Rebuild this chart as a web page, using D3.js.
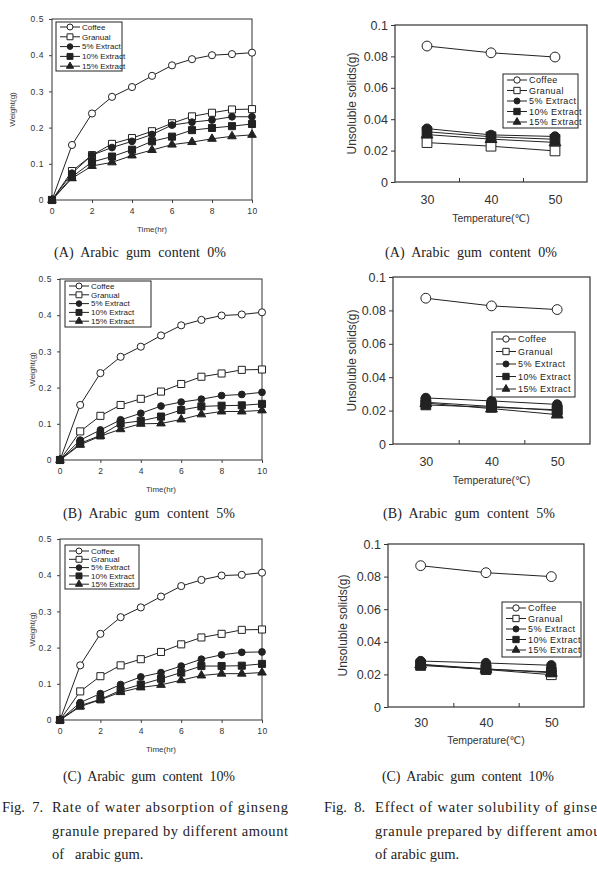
<!DOCTYPE html>
<html>
<head>
<meta charset="utf-8">
<script src="https://cdn.jsdelivr.net/npm/d3@7"></script>
<style>
  body { margin: 0; background: #fff; }
</style>
</head>
<body>
<div id="fig"></div>
<script>
// ---- data ----
var seriesNames = ['Coffee', 'Granual', '5% Extract', '10% Extract', '15% Extract'];
var hours = [0, 1, 2, 3, 4, 5, 6, 7, 8, 9, 10];
var hourTicks = [0, 2, 4, 6, 8, 10];
var weightTicks = [0, 0.1, 0.2, 0.3, 0.4, 0.5];
var temps = [30, 40, 50];
var solidTicks = [0, 0.02, 0.04, 0.06, 0.08, 0.1];

// Fig. 7 (A) arabic gum 0%
var wA_coffee = [0, 0.152, 0.239, 0.285, 0.312, 0.343, 0.372, 0.389, 0.400, 0.403, 0.407];
var wA_granual = [0, 0.080, 0.124, 0.155, 0.171, 0.190, 0.212, 0.231, 0.241, 0.250, 0.251];
var wA_ext5 = [0, 0.074, 0.124, 0.145, 0.162, 0.181, 0.207, 0.215, 0.221, 0.230, 0.230];
var wA_ext10 = [0, 0.064, 0.105, 0.120, 0.139, 0.162, 0.175, 0.193, 0.199, 0.204, 0.210];
var wA_ext15 = [0, 0.060, 0.094, 0.104, 0.123, 0.138, 0.153, 0.160, 0.169, 0.176, 0.180];
// Fig. 7 (B) arabic gum 5%
var wB_coffee = [0, 0.152, 0.240, 0.285, 0.313, 0.344, 0.372, 0.387, 0.399, 0.402, 0.408];
var wB_granual = [0, 0.079, 0.122, 0.152, 0.169, 0.189, 0.210, 0.230, 0.239, 0.249, 0.250];
var wB_ext5 = [0, 0.055, 0.083, 0.111, 0.129, 0.149, 0.160, 0.168, 0.178, 0.181, 0.187];
var wB_ext10 = [0, 0.046, 0.068, 0.101, 0.108, 0.120, 0.138, 0.148, 0.150, 0.151, 0.155];
var wB_ext15 = [0, 0.042, 0.066, 0.085, 0.100, 0.101, 0.112, 0.126, 0.134, 0.134, 0.137];
// Fig. 7 (C) arabic gum 10%
var wC_coffee = [0, 0.151, 0.238, 0.284, 0.311, 0.341, 0.370, 0.387, 0.399, 0.401, 0.407];
var wC_granual = [0, 0.079, 0.121, 0.151, 0.168, 0.188, 0.209, 0.228, 0.238, 0.249, 0.250];
var wC_ext5 = [0, 0.048, 0.073, 0.098, 0.119, 0.131, 0.149, 0.168, 0.180, 0.187, 0.188];
var wC_ext10 = [0, 0.040, 0.057, 0.082, 0.098, 0.114, 0.131, 0.149, 0.149, 0.150, 0.155];
var wC_ext15 = [0, 0.037, 0.056, 0.077, 0.090, 0.097, 0.110, 0.123, 0.128, 0.128, 0.131];

// Fig. 8 (A) arabic gum 0%
var sA_coffee = [0.0866, 0.0823, 0.0796];
var sA_granual = [0.0251, 0.0228, 0.0198];
var sA_ext5 = [0.0340, 0.0300, 0.0290];
var sA_ext10 = [0.0320, 0.0288, 0.0272];
var sA_ext15 = [0.0302, 0.0273, 0.0252];
// Fig. 8 (B) arabic gum 5%
var sB_coffee = [0.0873, 0.0827, 0.0805];
var sB_granual = [0.0250, 0.0225, 0.0200];
var sB_ext5 = [0.0276, 0.0258, 0.0237];
var sB_ext10 = [0.0234, 0.0220, 0.0205];
var sB_ext15 = [0.0245, 0.0212, 0.0176];
// Fig. 8 (C) arabic gum 10%
var sC_coffee = [0.0867, 0.0824, 0.0800];
var sC_granual = [0.0260, 0.0230, 0.0198];
var sC_ext5 = [0.0282, 0.0270, 0.0256];
var sC_ext10 = [0.0255, 0.0232, 0.0215];
var sC_ext15 = [0.0262, 0.0234, 0.0210];

// ---- page ----
var W = 597, H = 882;
var ink = '#222';
var sans = 'Arial, "Liberation Sans", "DejaVu Sans", sans-serif';
var serif = '"Liberation Serif", "DejaVu Serif", serif';

var svg = d3.select('#fig').append('svg')
  .attr('width', W).attr('height', H)
  .style('display', 'block');

// marker look for each series: open circle, open square, filled circle, filled square, filled triangle
var markerShape = [d3.symbolCircle, d3.symbolSquare, d3.symbolCircle, d3.symbolSquare, d3.symbolTriangle];
var markerFill = ['#fff', '#fff', ink, ink, ink];

function drawMarkers(g, pts, i, scale) {
  var sizes = [40, 50, 36, 50, 32];
  g.selectAll(null)
    .data(pts)
    .enter()
    .append('path')
    .attr('transform', function (d) { return 'translate(' + d[0] + ',' + d[1] + ')'; })
    .attr('d', d3.symbol().type(markerShape[i]).size(sizes[i] * scale))
    .attr('fill', markerFill[i])
    .attr('stroke', ink)
    .attr('stroke-width', 1);
}

function drawLegend(lg, L, fontSize, spacing, mscale) {
  var g = svg.append('g');
  g.append('rect')
    .attr('x', L.x).attr('y', L.y).attr('width', L.w).attr('height', L.h)
    .attr('fill', '#fff').attr('stroke', ink).attr('stroke-width', 1);
  seriesNames.forEach(function (name, i) {
    var yy = L.row0 + i * L.step;
    g.append('line')
      .attr('x1', L.x + 4).attr('x2', L.x + 4 + L.sample)
      .attr('y1', yy).attr('y2', yy)
      .attr('stroke', ink).attr('stroke-width', 1);
    drawMarkers(g, [[L.x + 4 + L.sample / 2, yy]], i, mscale);
    g.append('text')
      .attr('x', L.x + 6 + L.sample).attr('y', yy)
      .attr('dy', '0.35em')
      .attr('font-family', sans).attr('font-size', fontSize)
      .attr('letter-spacing', spacing)
      .attr('fill', ink)
      .text(name);
  });
}

function caption(cx, y, label) {
  svg.append('text')
    .attr('x', cx).attr('y', y)
    .attr('text-anchor', 'middle')
    .attr('font-family', serif).attr('font-size', 14)
    .attr('textLength', 172).attr('lengthAdjust', 'spacing')
    .style('white-space', 'pre')
    .attr('fill', ink)
    .text(label);
}

// Fig. 7 style panel: weight gain over time
function drawWeight(p, series) {
  var x = d3.scaleLinear().domain([0, 10]).range([p.left, p.right]);
  var y = d3.scaleLinear().domain([0, 0.5]).range([p.bottom, p.top]);

  var ax = svg.append('g')
    .attr('transform', 'translate(0,' + p.bottom + ')')
    .call(d3.axisBottom(x).tickValues(hourTicks).tickSize(3).tickPadding(5));
  var ay = svg.append('g')
    .attr('transform', 'translate(' + p.left + ',0)')
    .call(d3.axisLeft(y).tickValues(weightTicks).tickSize(3).tickPadding(5)
      .tickFormat(function (d) { return d === 0 ? '0' : d3.format('.1f')(d); }));
  [ax, ay].forEach(function (a) {
    a.select('.domain').remove();
    a.attr('font-family', sans).attr('font-size', 8.5);
    a.selectAll('text').attr('fill', '#333').attr('letter-spacing', 0.6);
    a.selectAll('line').attr('stroke', '#444');
  });

  svg.append('rect')
    .attr('x', p.left).attr('y', p.top)
    .attr('width', p.right - p.left).attr('height', p.bottom - p.top)
    .attr('fill', 'none').attr('stroke', '#333').attr('stroke-width', 1);

  var line = d3.line().x(function (d) { return d[0]; }).y(function (d) { return d[1]; });
  series.forEach(function (vals, i) {
    var pts = vals.map(function (v, k) { return [x(hours[k]), y(v)]; });
    svg.append('path').attr('d', line(pts))
      .attr('fill', 'none').attr('stroke', ink).attr('stroke-width', 1);
  });
  series.forEach(function (vals, i) {
    var pts = vals.map(function (v, k) { return [x(hours[k]), y(v)]; });
    drawMarkers(svg.append('g'), pts, i, 1);
  });

  svg.append('text')
    .attr('x', (p.left + p.right) / 2).attr('y', p.bottom + 32)
    .attr('text-anchor', 'middle')
    .attr('font-family', sans).attr('font-size', 8).attr('fill', '#333')
    .text('Time(hr)');
  svg.append('text')
    .attr('transform', 'translate(' + p.yLabelX + ',' + (p.top + p.bottom) / 2 + ') rotate(-90)')
    .attr('text-anchor', 'middle').attr('dy', '0.35em')
    .attr('font-family', sans).attr('font-size', 8).attr('fill', '#333')
    .text('Weight(g)');

  drawLegend(svg, p.legend, 8, 0, 0.7);
  caption((p.left + p.right) / 2 - 12, p.capY, p.cap);
}

// Fig. 8 style panel: unsoluble solids against temperature
function drawSolids(p, series) {
  var x = d3.scaleLinear().domain([25, 55]).range([p.left, p.right]);
  var y = d3.scaleLinear().domain([0, 0.1]).range([p.bottom, p.top]);

  var ax = svg.append('g')
    .attr('transform', 'translate(0,' + p.bottom + ')')
    .call(d3.axisBottom(x).tickValues(temps).tickSize(0).tickPadding(p.xPad));
  var axIn = svg.append('g')
    .attr('transform', 'translate(0,' + p.bottom + ')')
    .call(d3.axisBottom(x).tickValues([35, 45]).tickSize(-4).tickFormat(''));
  var ay = svg.append('g')
    .attr('transform', 'translate(' + p.left + ',0)')
    .call(d3.axisLeft(y).tickValues(solidTicks).tickSize(4).tickPadding(3)
      .tickFormat(function (d) { return d === 0 ? '0' : String(+d.toFixed(2)); }));
  [ax, axIn, ay].forEach(function (a) {
    a.select('.domain').remove();
    a.attr('font-family', sans).attr('font-size', 12.5);
    a.selectAll('text').attr('fill', '#333');
    a.selectAll('line').attr('stroke', '#333');
  });

  svg.append('rect')
    .attr('x', p.left).attr('y', p.top)
    .attr('width', p.right - p.left).attr('height', p.bottom - p.top)
    .attr('fill', 'none').attr('stroke', '#333').attr('stroke-width', 1.2);

  var line = d3.line().x(function (d) { return d[0]; }).y(function (d) { return d[1]; });
  series.forEach(function (vals, i) {
    var pts = vals.map(function (v, k) { return [x(temps[k]), y(v)]; });
    svg.append('path').attr('d', line(pts))
      .attr('fill', 'none').attr('stroke', ink).attr('stroke-width', 1);
  });
  series.forEach(function (vals, i) {
    var pts = vals.map(function (v, k) { return [x(temps[k]), y(v)]; });
    drawMarkers(svg.append('g'), pts, i, 1.9);
  });

  svg.append('text')
    .attr('x', x(40)).attr('y', p.bottom + p.titleOff)
    .attr('text-anchor', 'middle')
    .attr('font-family', sans).attr('font-size', 10.5).attr('fill', '#333')
    .text('Temperature(\u2103)');
  svg.append('text')
    .attr('transform', 'translate(' + p.yLabelX + ',' + (p.top + p.bottom) / 2 + ') rotate(-90)')
    .attr('text-anchor', 'middle').attr('dy', '0.35em')
    .attr('font-family', sans).attr('font-size', 12).attr('fill', '#333')
    .text('Unsoluble solids(g)');

  drawLegend(svg, p.legend, 9, 0.4, 0.8);
  caption(p.capX, p.capY, p.cap);
}

// ---- six panels ----
drawWeight({
  left: 52, right: 252, top: 19, bottom: 200, yLabelX: 12,
  legend: { x: 56, y: 22, w: 66, h: 49, row0: 27, step: 9.8, sample: 20 },
  capY: 257, cap: '(A)  Arabic  gum  content  0%'
}, [wA_coffee, wA_granual, wA_ext5, wA_ext10, wA_ext15]);

drawWeight({
  left: 60, right: 262, top: 279, bottom: 460, yLabelX: 32,
  legend: { x: 65, y: 281, w: 86, h: 46, row0: 286, step: 8.8, sample: 20 },
  capY: 518, cap: '(B)  Arabic  gum  content  5%'
}, [wB_coffee, wB_granual, wB_ext5, wB_ext10, wB_ext15]);

drawWeight({
  left: 60, right: 262, top: 539, bottom: 720, yLabelX: 32,
  legend: { x: 65, y: 545, w: 74, h: 44, row0: 551, step: 8.3, sample: 20 },
  capY: 781, cap: '(C)  Arabic  gum  content  10%'
}, [wC_coffee, wC_granual, wC_ext5, wC_ext10, wC_ext15]);

drawSolids({
  left: 395, right: 587, top: 25, bottom: 182, xPad: 13, titleOff: 40, yLabelX: 352,
  legend: { x: 503, y: 74, w: 75, h: 54, row0: 80, step: 10.5, sample: 20 },
  capX: 471, capY: 257, cap: '(A)  Arabic  gum  content  0%'
}, [sA_coffee, sA_granual, sA_ext5, sA_ext10, sA_ext15]);

drawSolids({
  left: 393, right: 590, top: 277, bottom: 444, xPad: 13, titleOff: 40, yLabelX: 352,
  legend: { x: 492, y: 332, w: 83, h: 65, row0: 339, step: 12.5, sample: 20 },
  capX: 469, capY: 518, cap: '(B)  Arabic  gum  content  5%'
}, [sB_coffee, sB_granual, sB_ext5, sB_ext10, sB_ext15]);

drawSolids({
  left: 388, right: 584, top: 544, bottom: 707, xPad: 11, titleOff: 37, yLabelX: 343,
  legend: { x: 502, y: 602, w: 79, h: 55, row0: 608, step: 10.5, sample: 20 },
  capX: 468, capY: 781, cap: '(C)  Arabic  gum  content  10%'
}, [sC_coffee, sC_granual, sC_ext5, sC_ext10, sC_ext15]);

// ---- figure captions ----
function figText(x, y, str, len) {
  var t = svg.append('text')
    .attr('x', x).attr('y', y)
    .attr('font-family', serif).attr('font-size', 14.5)
    .attr('fill', ink)
    .style('white-space', 'pre')
    .text(str);
  if (len) t.attr('textLength', len).attr('lengthAdjust', 'spacing');
}
figText(2, 812, 'Fig.  7.');
figText(52, 812, 'Rate of water absorption of ginseng', 236);
figText(52, 836, 'granule prepared by different amount', 236);
figText(52, 859, 'of   arabic gum.');
figText(324, 812, 'Fig.  8.');
// the printed page crops this column at its right edge, as here
figText(375, 812, 'Effect of water solubility of ginseng', 238);
figText(375, 836, 'granule prepared by different amount', 238);
figText(375, 859, 'of arabic gum.');
</script>
</body>
</html>
